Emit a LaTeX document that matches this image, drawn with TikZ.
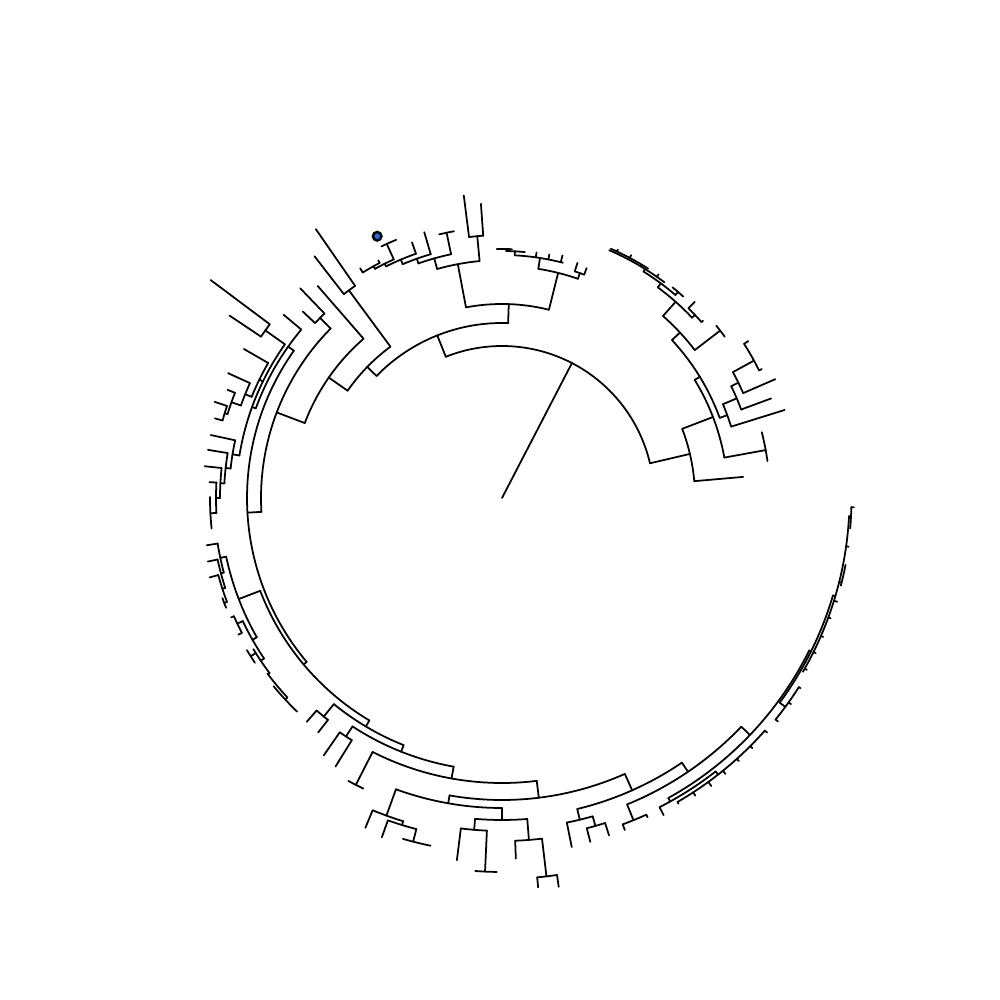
\documentclass[tikz,border=0pt]{standalone}
\usepackage{tikz}
\definecolor{tipblue}{RGB}{30,112,222}
\tikzset{br/.style={line width=0.5pt, line cap=round, line join=round, black}}
\newcommand{\tArc}[3]{\draw[br] (#2:#1) arc[start angle=#2, end angle=#3, radius=#1];}
\newcommand{\tRad}[3]{\draw[br] (#1:#2) -- (#1:#3);}
\begin{document}
\begin{tikzpicture}[x=0.01cm,y=0.01cm]
\useasboundingbox (0,0) rectangle (1000,1000);
\fill[white] (0,0) rectangle (1000,1000);
\begin{scope}[shift={(502,502)}]
% root
\tRad{62.6}{0}{152}
\tArc{152}{13.2}{111.7}
% ---------- right clade
\tRad{13.2}{152}{193}
\tArc{193}{5}{21}
\tRad{5}{193}{242}
\tRad{21}{193}{226}
\tArc{226}{10.3}{31.5}
\tRad{10.3}{226}{268}
\tArc{268}{7.9}{14.2}
\tRad{31.5}{226}{232}
\tArc{232}{20.2}{42.9}
\tRad{20.2}{232}{240}
\tArc{240}{17.3}{23}
\tRad{17.3}{240}{296}
\tRad{23}{240}{255}
\tArc{255}{20.3}{26}
\tRad{20.3}{255}{287}
\tRad{26}{255}{263}
\tArc{263}{23.5}{28.6}
\tRad{23.5}{263}{298}
\tRad{28.6}{263}{287}
\tArc{287}{26.4}{32.5}
\tRad{26.4}{287}{290}
\tRad{32.5}{287}{292}
\tRad{42.9}{232}{243}
\tArc{243}{37.5}{48.5}
\tRad{37.5}{243}{275}
\tArc{275}{35.9}{38.8}
\tRad{48.5}{243}{262}
\tArc{262}{43.5}{53.5}
\tRad{43.5}{262}{266}
\tArc{266}{41.4}{45.5}
\tRad{45.5}{266}{275}
\tRad{41.4}{266}{268}
\tRad{53.5}{262}{267}
\tArc{267}{49.5}{58}
\tRad{49.5}{267}{271}
\tArc{271}{48}{51}
\tRad{58}{267}{270}
\tArc{270}{53}{66.6}
\tRad{55}{270}{273}
\tRad{59}{270}{272}
\tArc{272}{57.5}{66.4}
\tRad{62}{272}{275}
\tRad{65}{272}{274}
% ---------- upper clade
\tRad{111.7}{152}{175}
\tArc{175}{88}{135.8}
\tRad{88}{175}{194}
\tArc{194}{76}{100.7}
\tRad{100.7}{194}{238}
\tArc{238}{95.4}{105.8}
\tRad{95.4}{238}{263}
\tArc{263}{94.1}{97.2}
\tRad{97.2}{263}{305}
\tRad{94.1}{263}{295}
\tRad{105.8}{238}{249}
\tArc{249}{101.8}{109.6}
\tRad{101.8}{249}{271}
\tArc{271}{100.2}{103.4}
\tRad{109.6}{249}{254}
\tArc{254}{106.3}{113}
\tRad{106.3}{254}{277}
\tRad{113}{254}{259}
\tArc{259}{109.4}{116.6}
\tRad{109.4}{259}{271}
\tRad{116.6}{259}{262}
\tArc{262}{114.4}{119}
\tRad{114.4}{262}{279}
\tArc{279}{112.3}{115.6}
\tRad{119}{262}{265}
\tArc{265}{117.5}{121.7}
\tRad{121.7}{265}{270}
\tRad{117.5}{265}{268}
\tRad{76}{194}{232}
\tArc{232}{70.9}{81}
\tRad{70.9}{232}{238}
\tArc{238}{69.8}{72.2}
\tRad{72.2}{238}{247}
\tRad{69.8}{238}{245}
\tRad{81}{232}{243}
\tArc{243}{75.5}{87}
\tRad{76}{243}{250}
\tRad{79}{243}{248}
\tRad{82}{243}{248}
\tRad{87}{243}{247}
\tArc{247}{84.7}{89}
\tRad{89}{247}{249}
\tArc{249}{87.7}{91.2}
\tRad{135.8}{175}{188}
\tArc{188}{126.4}{145.2}
\tRad{126.4}{188}{258}
\tArc{258}{124.7}{127.8}
\tRad{124.7}{258}{327}
\tRad{127.8}{258}{306}
\tRad{145.2}{188}{211}
\tArc{211}{131}{159.2}
\tRad{131}{211}{281}
\tRad{159.2}{211}{241}
\tArc{241}{135.3}{183.3}
\tRad{135.3}{241}{256}
\tArc{256}{133.9}{136.9}
\tRad{133.9}{256}{291}
\tRad{136.9}{256}{273}
\tRad{183.3}{241}{255}
\tArc{255}{144.7}{220}
% left ladder
\tRad{144.7}{255}{262}
\tArc{262}{140}{160}
\tRad{140}{262}{285}
\tRad{160}{262}{266}
\tArc{266}{144.7}{170.8}
\tRad{144.7}{266}{290}
\tArc{290}{143.2}{146.2}
\tRad{143.2}{290}{364}
\tRad{146.2}{290}{328}
\tRad{154}{266}{270}
\tArc{270}{150}{158}
\tRad{150}{270}{298}
\tRad{158}{270}{277}
\tArc{277}{155.5}{160.5}
\tRad{155.5}{277}{301}
\tRad{160.5}{277}{287}
\tArc{287}{158.5}{163}
\tRad{158.5}{287}{295}
\tRad{163}{287}{290}
\tArc{290}{161.5}{164.5}
\tRad{161.5}{290}{303}
\tRad{164.5}{290}{298}
\tRad{170.8}{266}{273}
\tArc{273}{167.8}{173.8}
\tRad{167.8}{273}{298}
\tRad{173.8}{273}{278}
\tArc{278}{170.7}{177}
\tRad{170.7}{278}{298}
\tRad{177}{278}{282}
\tArc{282}{173.9}{180}
\tRad{173.9}{282}{299}
\tRad{180}{282}{286}
\tArc{286}{176.9}{183}
\tRad{176.9}{286}{293}
\tRad{183}{286}{292}
\tArc{292}{179.8}{186}
% ---------- lower part
\tRad{220}{255}{259}
\tArc{259}{201}{239.2}
\tRad{201}{259}{282}
\tArc{282}{192}{209.6}
\tRad{192}{282}{288}
\tArc{288}{189.1}{195}
\tRad{189.1}{288}{299}
\tRad{195}{288}{291}
\tArc{291}{192.2}{198}
\tRad{192.2}{291}{301}
\tRad{198}{291}{294}
\tArc{294}{195.2}{200.7}
\tRad{195.2}{294}{303}
\tRad{200.7}{294}{297}
\tArc{297}{199.7}{201.7}
\tRad{209.6}{282}{287}
\tArc{287}{205.4}{214}
\tRad{205.4}{287}{293}
\tArc{293}{203.8}{207.4}
\tRad{203.8}{293}{296}
\tRad{207.4}{293}{297}
\tRad{214}{287}{291}
\tArc{291}{211.3}{217}
\tRad{212.2}{291}{297}
\tArc{297}{210.8}{213.7}
\tRad{217}{291}{293}
\tArc{293}{216.8}{222.9}
\tRad{222.9}{293}{296}
\tArc{296}{219.5}{226.2}
\tRad{239.2}{259}{266}
\tArc{266}{230.8}{248.3}
\tRad{230.8}{266}{282}
\tArc{282}{228.9}{231.9}
\tRad{228.9}{282}{297}
\tRad{231.9}{282}{298}
\tRad{248.3}{266}{273}
\tArc{273}{236.8}{259.8}
\tRad{236.8}{273}{285}
\tArc{285}{235.3}{238.2}
\tRad{235.3}{285}{313}
\tRad{238.2}{285}{316}
\tRad{259.8}{273}{285}
\tArc{285}{243}{277}
\tRad{243}{285}{322}
\tArc{322}{241.5}{244.5}
\tRad{277}{285}{302}
\tArc{302}{260}{294}
\tRad{260}{302}{310}
\tArc{310}{250}{270}
\tRad{250}{310}{338}
\tArc{338}{247.5}{253}
\tRad{247.5}{338}{357}
\tRad{253}{338}{342}
\tArc{342}{250.5}{255.5}
\tRad{250.5}{342}{360}
\tRad{255.5}{342}{355}
\tArc{355}{253.8}{258.4}
\tRad{270}{310}{322}
\tArc{322}{265.2}{274.5}
\tRad{265.2}{322}{333}
\tArc{333}{262.9}{267.4}
\tRad{262.9}{333}{365}
\tRad{267.4}{333}{374}
\tArc{374}{265.9}{269.2}
\tRad{274.5}{322}{343}
\tArc{343}{272.2}{276.7}
\tRad{272.2}{343}{361}
\tRad{276.7}{343}{381}
\tArc{381}{275.3}{278.3}
\tRad{275.3}{381}{391}
\tRad{278.3}{381}{393}
\tRad{294}{302}{320}
\tArc{320}{283.6}{304.2}
\tRad{283.6}{320}{331}
\tArc{331}{281.3}{285.9}
\tRad{281.3}{331}{356}
\tRad{285.9}{331}{341}
\tArc{341}{284.4}{287.6}
\tRad{284.4}{341}{355}
\tRad{287.6}{341}{354}
\tRad{304.2}{320}{331}
\tArc{331}{292.2}{316.3}
\tRad{292.2}{331}{348}
\tArc{348}{290.3}{294.5}
\tRad{290.3}{348}{354}
\tRad{294.5}{348}{351}
\tRad{316.3}{331}{343}
\tArc{343}{299}{333.6}
\tRad{299}{343}{347}
\tArc{347}{297}{308}
\tRad{297}{347}{356}
\tRad{308}{347}{351}
\tArc{351}{300}{318.5}
\tRad{300}{351}{353}
\tRad{303}{351}{355}
\tRad{306}{351}{356}
\tRad{309}{351}{355}
\tRad{312}{351}{354}
\tRad{315}{351}{354}
\tRad{318.5}{351}{354}
% right-side spine
\tRad{333.6}{343}{345}
\tArc{345}{323.6}{343.6}
\tRad{323.6}{345}{352}
\tArc{352}{321}{327.5}
\tRad{321}{352}{355}
\tRad{324.5}{352}{355}
\tRad{327.5}{352}{354}
\tRad{343.6}{345}{347.5}
\tArc{347.5}{330}{357}
\tRad{330.6}{347.5}{350}
\tRad{333.7}{347.5}{350}
\tRad{336.6}{347.5}{350}
\tRad{339.9}{347.5}{350}
\tRad{342.8}{347.5}{351}
\tRad{346}{347.5}{350}
\tArc{350}{345.5}{349}
\tRad{352}{347.5}{350}
\tRad{357}{347.5}{349.5}
\tArc{349.5}{355}{358.5}
\tRad{358.5}{349.5}{352}
% tip marker
\node[circle, draw=black, fill=tipblue, line width=0.7pt, inner sep=0pt, minimum size=0.085cm] (tipdot) at (115.5:290) {};
\end{scope}
\end{tikzpicture}
\end{document}
